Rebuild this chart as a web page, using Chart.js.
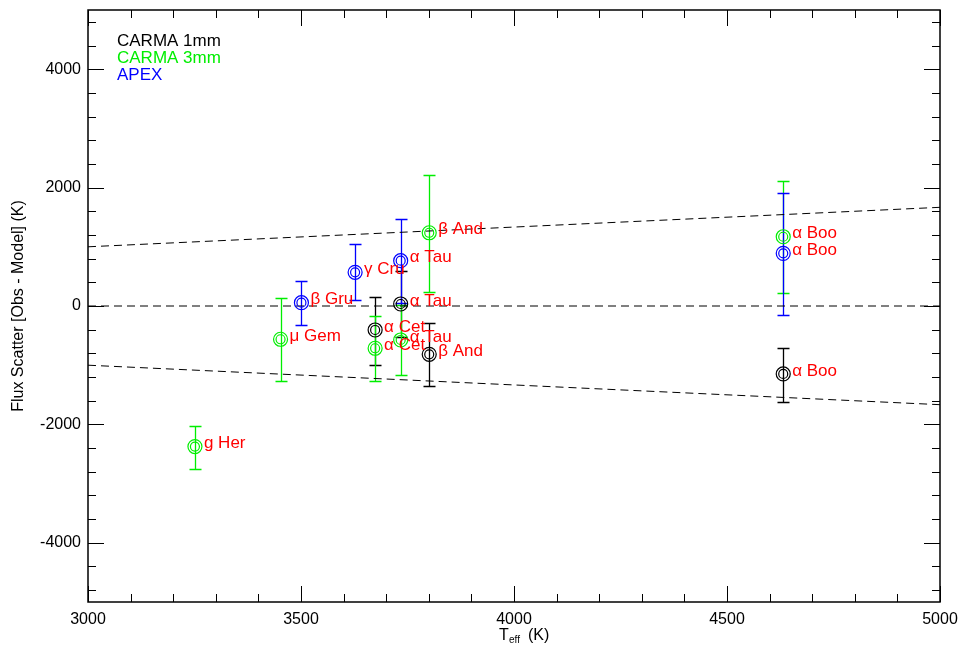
<!DOCTYPE html>
<html>
<head>
<meta charset="utf-8">
<script src="https://cdn.jsdelivr.net/npm/chart.js@4.4.1/dist/chart.umd.min.js"></script>
<style>
  html, body { margin: 0; padding: 0; background: #fff; }
  #wrap { width: 962px; height: 646px; }
</style>
</head>
<body>
<div id="wrap"><canvas id="chart" width="962" height="646"></canvas></div>
<script>
/* ---------- data ---------- */
// CARMA 1mm
const c1Names = ['α Cet', 'α Tau', 'β And', 'α Boo'];
const c1Teff  = [3674, 3734, 3801, 4632];
const c1Val   = [-405, 34, -816, -1148];
const c1Lo    = [-996, -522, -1350, -1625];
const c1Hi    = [152, 590, -292, -709];

// CARMA 3mm
const c3Names = ['g Her', 'μ Gem', 'α Cet', 'α Tau', 'β And', 'α Boo'];
const c3Teff  = [3251, 3452, 3674, 3734, 3801, 4632];
const c3Val   = [-2374, -562, -714, -574, 1237, 1170];
const c3Lo    = [-2757, -1266, -1261, -1165, 241, 214];
const c3Hi    = [-2025, 130, -169, 17, 2216, 2115];

// APEX
const apNames = ['β Gru', 'γ Cru', 'α Tau', 'α Boo'];
const apTeff  = [3501, 3627, 3734, 4632];
const apVal   = [56, 569, 765, 889];
const apLo    = [-321, 101, 55, -157];
const apHi    = [422, 1046, 1475, 1902];

// dashed reference lines
const lineT     = [3000, 5000];
const lineUpper = [1000, 1667];
const lineZero  = [0, 0];
const lineLower = [-1000, -1667];

const xTicks = [3000, 3500, 4000, 4500, 5000];
const yTicks = [-4000, -2000, 0, 2000, 4000];

const FONT = '"Liberation Sans", Arial, Helvetica, sans-serif';

/* ---------- series setup ---------- */
const series = [
  { label: 'CARMA 1mm', color: '#000000', names: c1Names, t: c1Teff, v: c1Val, lo: c1Lo, hi: c1Hi },
  { label: 'CARMA 3mm', color: '#00ee00', names: c3Names, t: c3Teff, v: c3Val, lo: c3Lo, hi: c3Hi },
  { label: 'APEX',      color: '#0000ff', names: apNames, t: apTeff, v: apVal, lo: apLo, hi: apHi },
];

const pts = (t, v) => t.map((x, i) => ({ x: x, y: v[i] }));

const dashed = (ys) => ({
  type: 'line',
  data: pts(lineT, ys),
  borderColor: '#000',
  borderWidth: 1,
  borderDash: [8, 5],
  pointRadius: 0,
  fill: false,
  order: 10,
});

const datasets = [dashed(lineUpper), dashed(lineZero), dashed(lineLower)];
series.forEach(s => {
  // outer and inner ring of each point
  [7, 4.5].forEach(r => {
    datasets.push({
      type: 'scatter',
      data: pts(s.t, s.v),
      pointRadius: r,
      pointBorderColor: s.color,
      pointBackgroundColor: 'rgba(0,0,0,0)',
      pointBorderWidth: 1.2,
      order: 1,
    });
  });
});

/* ---------- plugins: error bars, labels, box ticks, titles ---------- */
const errorBars = {
  id: 'errorBars',
  beforeDatasetsDraw(chart) {
    const { ctx, scales: { x, y }, chartArea: a } = chart;
    ctx.save();
    ctx.beginPath();
    ctx.rect(a.left, a.top, a.width, a.height);
    ctx.clip();
    ctx.lineWidth = 1.3;
    series.forEach(s => {
      ctx.strokeStyle = s.color;
      s.t.forEach((t, i) => {
        const px = Math.round(x.getPixelForValue(t)) + 0.5;
        const top = Math.round(y.getPixelForValue(s.hi[i])) + 0.5;
        const bot = Math.round(y.getPixelForValue(s.lo[i])) + 0.5;
        ctx.beginPath();
        ctx.moveTo(px, top); ctx.lineTo(px, bot);
        ctx.moveTo(px - 6, top); ctx.lineTo(px + 6, top);
        ctx.moveTo(px - 6, bot); ctx.lineTo(px + 6, bot);
        ctx.stroke();
      });
    });
    ctx.restore();
  },
  afterDatasetsDraw(chart) {
    const { ctx, scales: { x, y } } = chart;
    ctx.save();
    ctx.fillStyle = '#ff0000';
    ctx.font = '17px ' + FONT;
    ctx.textAlign = 'left';
    ctx.textBaseline = 'middle';
    series.forEach(s => {
      s.t.forEach((t, i) => {
        ctx.fillText(s.names[i], x.getPixelForValue(t) + 9, y.getPixelForValue(s.v[i]) - 3);
      });
    });
    ctx.restore();
  },
};

const boxTicks = {
  id: 'boxTicks',
  afterDraw(chart) {
    const { ctx, chartArea: a, scales: { x, y } } = chart;
    ctx.save();
    ctx.strokeStyle = '#000';
    ctx.lineWidth = 1;
    ctx.beginPath();
    for (let v = 3000; v <= 5000; v += 100) {
      const px = Math.round(x.getPixelForValue(v)) + 0.5;
      const len = v % 500 === 0 ? 16 : 8;
      ctx.moveTo(px, a.bottom); ctx.lineTo(px, a.bottom - len);
      ctx.moveTo(px, a.top); ctx.lineTo(px, a.top + len);
    }
    for (let v = -4800; v <= 4800; v += 400) {
      const py = Math.round(y.getPixelForValue(v)) + 0.5;
      const len = v % 2000 === 0 ? 16 : 8;
      ctx.moveTo(a.left, py); ctx.lineTo(a.left + len, py);
      ctx.moveTo(a.right, py); ctx.lineTo(a.right - len, py);
    }
    ctx.stroke();
    ctx.lineWidth = 1.5;
    ctx.strokeRect(a.left, a.top, a.width, a.height);

    // legend text
    ctx.font = '17px ' + FONT;
    ctx.textAlign = 'left';
    ctx.textBaseline = 'middle';
    series.forEach((s, k) => {
      ctx.fillStyle = s.color;
      ctx.fillText(s.label, a.left + 29, a.top + 31 + k * 17);
    });

    // axis titles
    ctx.fillStyle = '#000';
    ctx.font = '16px ' + FONT;
    ctx.save();
    ctx.translate(19, (a.top + a.bottom) / 2);
    ctx.rotate(-Math.PI / 2);
    ctx.textAlign = 'center';
    ctx.fillText('Flux Scatter [Obs - Model] (K)', 0, 0);
    ctx.restore();

    const cx = (a.left + a.right) / 2;
    const ty = 636;
    ctx.textAlign = 'left';
    ctx.fillText('T', cx - 15, ty);
    ctx.font = '10px ' + FONT;
    ctx.fillText('eff', cx - 5, ty + 4);
    ctx.font = '16px ' + FONT;
    ctx.fillText('(K)', cx + 14, ty);
    ctx.restore();
  },
};

/* ---------- chart ---------- */
new Chart(document.getElementById('chart'), {
  type: 'scatter',
  data: { datasets: datasets },
  plugins: [errorBars, boxTicks],
  options: {
    responsive: false,
    animation: false,
    devicePixelRatio: 1,
    layout: { padding: { left: 0, top: 10, right: 22, bottom: 0 } },
    plugins: {
      legend: { display: false },
      tooltip: { enabled: false },
    },
    scales: {
      x: {
        type: 'linear',
        min: 3000, max: 5000,
        afterBuildTicks: (s) => { s.ticks = xTicks.map(v => ({ value: v })); },
        afterFit: (s) => { s.height = 44; s.paddingLeft = 0; s.paddingRight = 0; },
        grid: { display: true, drawOnChartArea: false, drawTicks: false },
        border: { display: false },
        ticks: {
          autoSkip: false, maxRotation: 0, padding: 8,
          color: '#000', font: { family: FONT, size: 16 },
          callback: (v) => String(v),
        },
      },
      y: {
        type: 'linear',
        min: -5000, max: 5000,
        afterBuildTicks: (s) => { s.ticks = yTicks.map(v => ({ value: v })); },
        afterFit: (s) => { s.width = 88; s.paddingTop = 0; s.paddingBottom = 0; },
        grid: { display: true, drawOnChartArea: false, drawTicks: false },
        border: { display: false },
        ticks: {
          autoSkip: false, padding: 7,
          color: '#000', font: { family: FONT, size: 16 },
          callback: (v) => String(v),
        },
      },
    },
  },
});
</script>
</body>
</html>
